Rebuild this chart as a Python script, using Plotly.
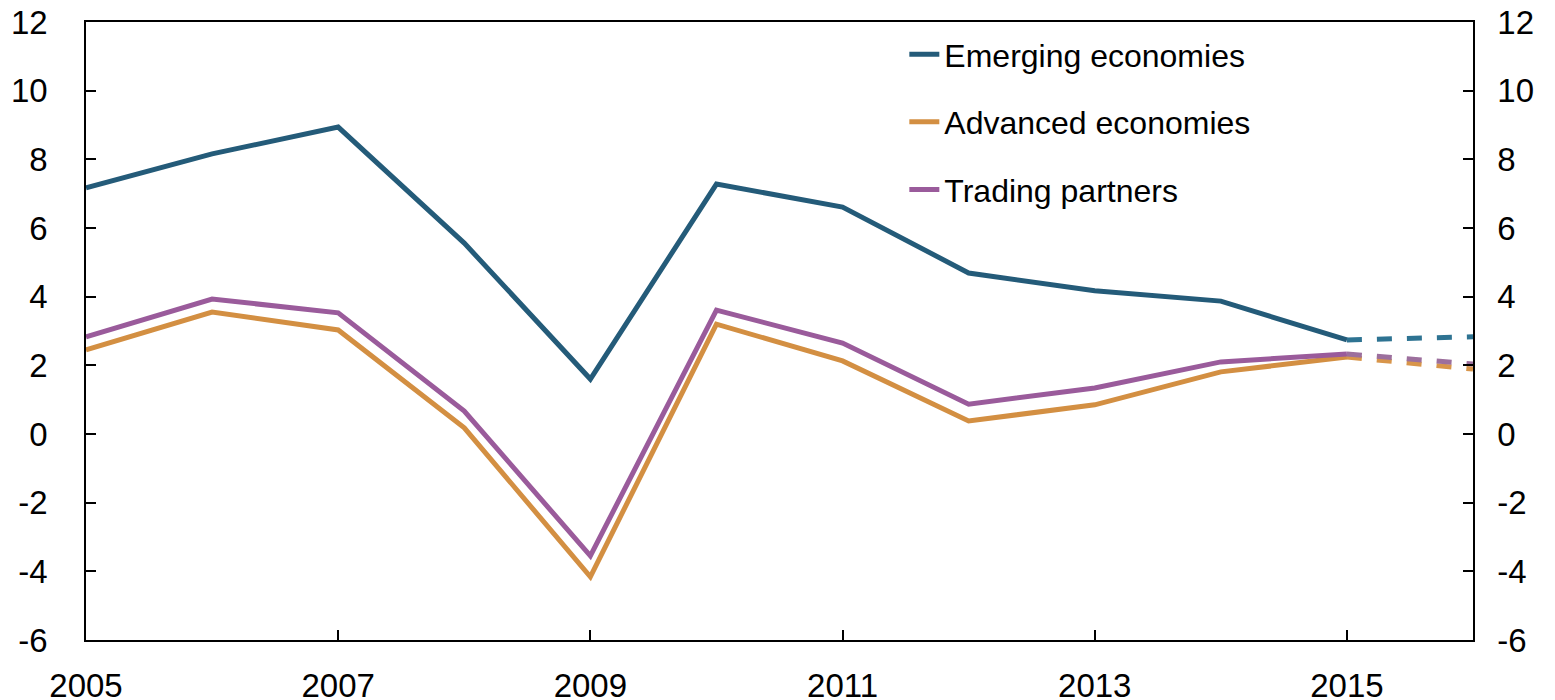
import plotly.graph_objects as go

years = list(range(2005, 2017))
emerging = [7.17, 8.16, 8.94, 5.56, 1.6, 7.28, 6.61, 4.69, 4.17, 3.87, 2.74, 2.83]
advanced = [2.45, 3.55, 3.03, 0.18, -4.16, 3.2, 2.13, 0.38, 0.85, 1.81, 2.24, 1.89]
trading = [2.83, 3.93, 3.53, 0.67, -3.55, 3.61, 2.65, 0.87, 1.34, 2.1, 2.33, 2.04]

ytick_vals = list(range(-6, 13, 2))
ytick_text = [str(v) for v in ytick_vals]  # plain hyphen minus, like the original

names = ["Emerging economies", "Advanced economies", "Trading partners"]
colors = ["#245b79", "#d38f42", "#9a5b9b"]
fcolors = ["#2e7392", "#d8954a", "#9c6f9d"]
series = [emerging, advanced, trading]

fig = go.Figure()
for i, (name, vals) in enumerate(zip(names, series)):
    fig.add_trace(go.Scatter(x=years[:-1], y=vals[:-1], mode="lines", name=name,
                             legendgroup=name,
                             line=dict(color=colors[i], width=5)))
for i, (name, vals) in enumerate(zip(names, series)):
    fig.add_trace(go.Scatter(x=years[-2:], y=vals[-2:], mode="lines", showlegend=False,
                             line=dict(color=fcolors[i], width=5, dash="dash")))
# invisible trace for right axis
fig.add_trace(go.Scatter(x=[years[0]], y=[0], yaxis="y2", mode="none",
                         showlegend=False, hoverinfo="skip"))

font = dict(family="Liberation Sans, Arial, sans-serif", size=33, color="black")
yax = dict(range=[-6, 12], tickvals=ytick_vals, ticktext=ytick_text,
           ticks="inside", ticklen=10, tickcolor="black", tickwidth=1.5,
           showline=True, linecolor="black", linewidth=1.5, showgrid=False,
           zeroline=False, automargin=False, ticklabeloverflow="allow")
# page body has an 8px margin, so margins are shifted to compensate
fig.update_layout(
    width=1555, height=700,
    margin=dict(l=78, r=90, t=14, b=68),
    plot_bgcolor="white", paper_bgcolor="white",
    font=font,
    showlegend=True,
    legend=dict(x=0.59, y=0.992, xanchor="left", yanchor="top",
                font=dict(size=32), tracegroupgap=23,
                bgcolor="rgba(0,0,0,0)"),
    xaxis=dict(range=[2005, 2016], tickvals=[2005, 2007, 2009, 2011, 2013, 2015],
               ticks="inside", ticklen=10, tickcolor="black", tickwidth=1.5,
               showline=True, linecolor="black", linewidth=1.5, mirror=True,
               showgrid=False, zeroline=False, automargin=False,
               ticklabelstandoff=16, ticklabeloverflow="allow"),
    yaxis=dict(**yax, ticklabelstandoff=30),
    yaxis2=dict(**yax, overlaying="y", side="right", ticklabelstandoff=16),
)

fig.write_html("out.html")
